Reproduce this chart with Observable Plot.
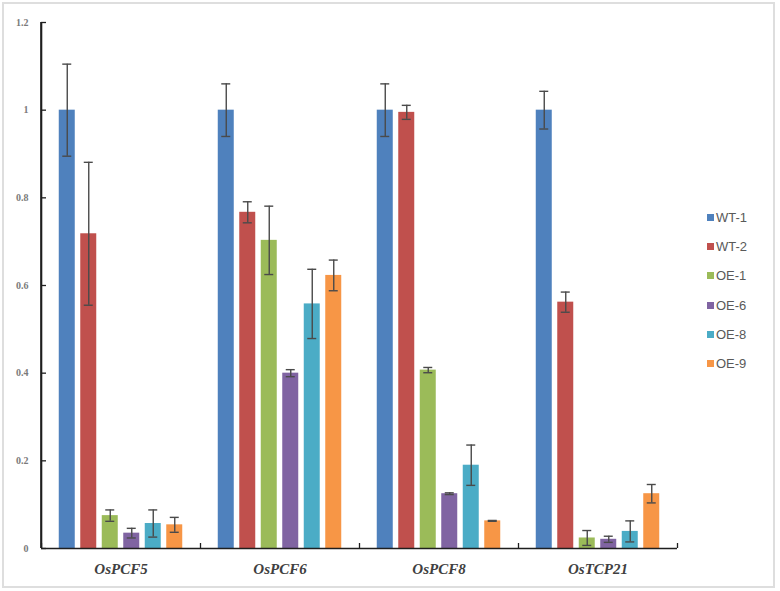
<!DOCTYPE html>
<html><head><meta charset="utf-8">
<script src="https://cdn.jsdelivr.net/npm/d3@7"></script>
<script src="https://cdn.jsdelivr.net/npm/@observablehq/plot@0.6"></script>
<style>
body{margin:0;background:#fff}
#wrap{position:relative;width:780px;height:591px;overflow:hidden}
#border{position:absolute;left:2px;top:2px;width:769px;height:582px;border:2px solid #dedede;pointer-events:none}
#chart{position:absolute;left:0;top:0}
.leg{position:absolute;font:13px "Liberation Sans","DejaVu Sans",sans-serif;color:#595959;line-height:14px;white-space:nowrap}
.leg span{display:inline-block;width:7px;height:7px;margin-right:2px;vertical-align:1px}
</style></head><body>
<div id="wrap"><div id="chart"></div><div id="border"></div></div>
<script>
const genes = ["OsPCF5", "OsPCF6", "OsPCF8", "OsTCP21"];
const series = ["WT-1", "WT-2", "OE-1", "OE-6", "OE-8", "OE-9"];
const colors = ["#4F81BD", "#C0504D", "#9BBB59", "#8064A2", "#4BACC6", "#F79646"];
// mean values per gene, in series order
const valPCF5  = [1.0, 0.718, 0.075, 0.035, 0.057, 0.054];
const valPCF6  = [1.0, 0.767, 0.703, 0.400, 0.558, 0.623];
const valPCF8  = [1.0, 0.995, 0.407, 0.125, 0.190, 0.063];
const valTCP21 = [1.0, 0.562, 0.024, 0.021, 0.039, 0.125];
// error (± half-length) per gene
const errPCF5  = [0.105, 0.163, 0.013, 0.011, 0.031, 0.017];
const errPCF6  = [0.060, 0.024, 0.078, 0.008, 0.079, 0.035];
const errPCF8  = [0.060, 0.016, 0.006, 0.002, 0.046, 0.001];
const errTCP21 = [0.043, 0.023, 0.017, 0.007, 0.024, 0.021];
const yTicks = [0, 0.2, 0.4, 0.6, 0.8, 1, 1.2];
const yTickLabels = ["0", "0.2", "0.4", "0.6", "0.8", "1", "1.2"];

const vals = [valPCF5, valPCF6, valPCF8, valTCP21];
const errs = [errPCF5, errPCF6, errPCF8, errTCP21];
const data = genes.flatMap((g, gi) => series.map((s, si) => ({gene: g, series: s, value: vals[gi][si], err: errs[gi][si]})));

const W = 780, H = 591, ML = 41, MR = 103, MT = 22, MB = 43;
const FW = (W - ML - MR) / genes.length;   // width of one gene group (facet)
const pxPerUnit = (H - MT - MB) / 1.2;
const axisColor = "#1e1e1e", errColor = "#4a4a4a";

const chart = Plot.plot({
  width: W, height: H,
  marginLeft: ML, marginRight: MR, marginTop: MT, marginBottom: MB,
  style: {background: "transparent", overflow: "visible"},
  fx: {domain: genes, padding: 0, label: null},
  x: {domain: series, paddingInner: 0.256, paddingOuter: 0.826, round: false, axis: null},
  y: {domain: [0, 1.2], axis: null},
  color: {domain: series, range: colors},
  marks: [
    Plot.barY(data, {fx: "gene", x: "series", y: "value", fill: "series"}),
    Plot.ruleX(data, {fx: "gene", x: "series", y1: d => d.value - d.err, y2: d => d.value + d.err, stroke: errColor, strokeWidth: 1.4}),
    Plot.tickY(data, {fx: "gene", x: "series", y: d => d.value - d.err, insetLeft: 3.5, insetRight: 3.5, stroke: errColor, strokeWidth: 1.4}),
    Plot.tickY(data, {fx: "gene", x: "series", y: d => d.value + d.err, insetLeft: 3.5, insetRight: 3.5, stroke: errColor, strokeWidth: 1.4}),
    Plot.ruleY([0], {stroke: axisColor, strokeWidth: 1.6}),
    // y axis line: a thin rect along the left edge of the first facet
    Plot.rect([{gene: genes[0]}], {fx: "gene", y1: 0, y2: 1.2, insetLeft: -0.8, insetRight: FW - 0.8, fill: axisColor}),
    // y axis line (second method): a rule centred in the first facet, shifted to its left edge
    Plot.ruleX([genes[0]], {fx: d => d, x: null, y1: 0, y2: 1.2, dx: -FW / 2, stroke: axisColor, strokeWidth: 1.6}),
    // inside y ticks (5px from the left edge of the first facet)
    Plot.ruleY(yTicks.map(v => ({gene: genes[0], v})), {fx: "gene", y: "v", insetRight: FW - 5, stroke: axisColor, strokeWidth: 1.3}),
    // category boundary ticks (inside, pointing up)
    Plot.ruleX(genes, {fx: d => d, x: null, y1: 0, y2: 5 / pxPerUnit, dx: -FW / 2, stroke: axisColor, strokeWidth: 1.3}),
    Plot.ruleX([genes[genes.length - 1]], {fx: d => d, x: null, y1: 0, y2: 5 / pxPerUnit, dx: FW / 2, stroke: axisColor, strokeWidth: 1.3}),
    Plot.axisY({ticks: yTicks, tickFormat: d => yTickLabels[yTicks.indexOf(d)], tickSize: 0, tickPadding: 13, label: null,
      fontFamily: "Liberation Serif", fontWeight: "bold", fontSize: 10, fill: "#7a7a7a"}),
    Plot.axisFx({anchor: "bottom", tickSize: 0, tickPadding: 15, label: null,
      fontFamily: "Liberation Serif", fontWeight: "bold", fontStyle: "italic", fontSize: 15, fill: "#404040"})
  ]
});
document.getElementById("chart").appendChild(chart);

const wrap = document.getElementById("wrap");
series.forEach((s, i) => {
  const d = document.createElement("div");
  d.className = "leg";
  d.style.left = "707px";
  d.style.top = (211 + i * 29.2) + "px";
  d.innerHTML = `<span style="background:${colors[i]}"></span>${s}`;
  wrap.appendChild(d);
});
</script>
</body></html>
